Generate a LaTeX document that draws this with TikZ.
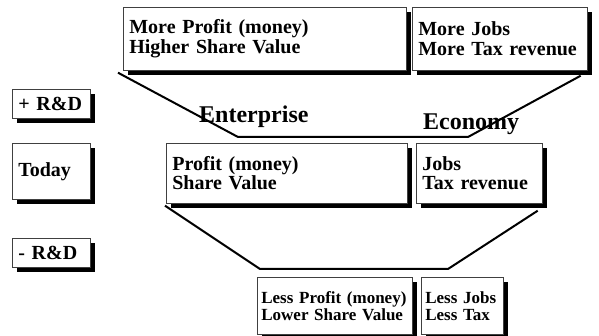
\documentclass[tikz,border=0pt]{standalone}
\usepackage{fontspec}
\setmainfont{Liberation Serif}
\usetikzlibrary{shadows,positioning}

\begin{document}
\begin{tikzpicture}[x=1pt,y=-1pt,
  box/.style={rectangle,draw=black!75,line width=0.7pt,fill=white,anchor=north west,
    align=left,inner xsep=6pt,inner ysep=0pt,
    drop shadow={shadow xshift=5pt,shadow yshift=-5pt,opacity=1,fill=black},
    font=\fontsize{20}{19.5}\selectfont\bfseries},
  smallbox/.style={box,inner xsep=4pt,font=\fontsize{17}{17}\selectfont\bfseries},
  heading/.style={anchor=base west,inner sep=0pt,font=\fontsize{24}{24}\selectfont\bfseries},
  funnel/.style={line width=2pt,line join=miter}]

  \useasboundingbox (0,0) rectangle (599,336);

  % top row
  \node[box,text width=271pt,minimum height=63pt] (moreprofit) at (123,7) {
    More Profit (money)\\
    Higher Share Value
  };
  \node[box,text width=163pt,minimum height=63pt] (morejobs) at (412,7) {
    More Jobs\\
    More Tax revenue
  };

  % left column
  \node[box,text width=66pt,minimum height=29pt] (plusrd) at (12,89) {+ R\&D};
  \node[box,text width=66pt,minimum height=56pt] (today) at (12,143) {Today};
  \node[box,text width=66pt,minimum height=29pt] (minusrd) at (12,238) {- R\&D};

  % middle row
  \node[box,text width=229pt,minimum height=60pt] (profit) at (166,143) {
    Profit (money)\\
    Share Value
  };
  \node[box,text width=114pt,minimum height=60pt] (jobs) at (416,143) {
    Jobs\\
    Tax revenue
  };

  % bottom row
  \node[smallbox,text width=147pt,minimum height=57pt] (lessprofit) at (257,277) {
    Less Profit (money)\\
    Lower Share Value
  };
  \node[smallbox,text width=74pt,minimum height=57pt] (lessjobs) at (421,277) {
    Less Jobs\\
    Less Tax
  };

  \node[heading] (enterprise) at (199,123) {Enterprise};
  \node[heading] (economy) at (423,130) {Economy};

  % funnels
  \coordinate (topl) at (238,137);
  \coordinate (topr) at (468,137);
  \coordinate (botl) at (260,269);
  \coordinate (botr) at (448,269);

  \draw[funnel] ([xshift=-5pt,yshift=-2pt]moreprofit.south west) -- (topl) -- (topr)
    -- ([xshift=-7pt,yshift=-5pt]morejobs.south east);
  \draw[funnel] ([xshift=-1pt,yshift=-2pt]profit.south west) -- (botl) -- (botr)
    -- ([xshift=-5pt,yshift=-7pt]jobs.south east);

\end{tikzpicture}
\end{document}
